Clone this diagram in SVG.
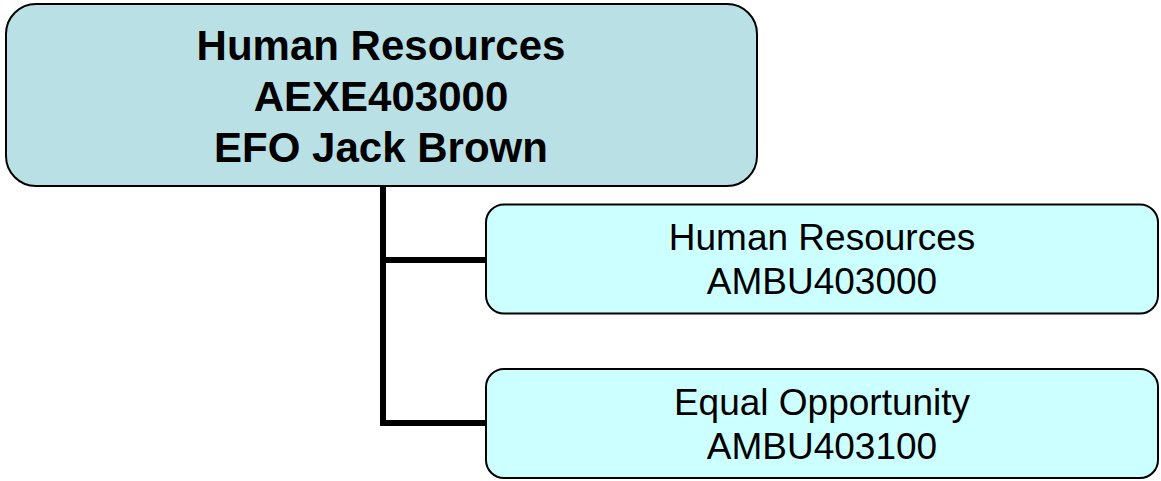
<svg xmlns="http://www.w3.org/2000/svg" width="1161" height="481" viewBox="0 0 1161 481">
<style>
.conn{fill:none;stroke:#000;stroke-width:6;stroke-linejoin:miter;stroke-linecap:butt}
.top{fill:#B9E0E4;stroke:#000;stroke-width:2}
.child{fill:#CCFFFF;stroke:#000;stroke-width:2}
.tb{font-family:"Liberation Sans",Arial,sans-serif;font-weight:bold;font-size:42px;text-anchor:middle;fill:#000}
.tc{font-family:"Liberation Sans",Arial,sans-serif;font-size:37px;text-anchor:middle;fill:#000}
</style>
<rect width="1161" height="481" fill="#fff"/>
<g id="connectors">
<path class="conn" d="M383,186 V423 H486"/>
<path class="conn" d="M383,260 H486"/>
</g>
<g id="node-hr-exec">
<rect class="top" x="6" y="4" width="751" height="182" rx="30" ry="30"/>
<text class="tb" x="381" y="60">Human Resources</text>
<text class="tb" x="381" y="111">AEXE403000</text>
<text class="tb" x="381" y="162">EFO Jack Brown</text>
</g>
<g id="node-hr">
<rect class="child" x="486" y="204.5" width="672" height="109" rx="18" ry="18"/>
<text class="tc" x="822" y="250">Human Resources</text>
<text class="tc" x="822" y="294">AMBU403000</text>
</g>
<g id="node-eo">
<rect class="child" x="486" y="369" width="672" height="109" rx="18" ry="18"/>
<text class="tc" x="822" y="415">Equal Opportunity</text>
<text class="tc" x="822" y="459">AMBU403100</text>
</g>
</svg>
